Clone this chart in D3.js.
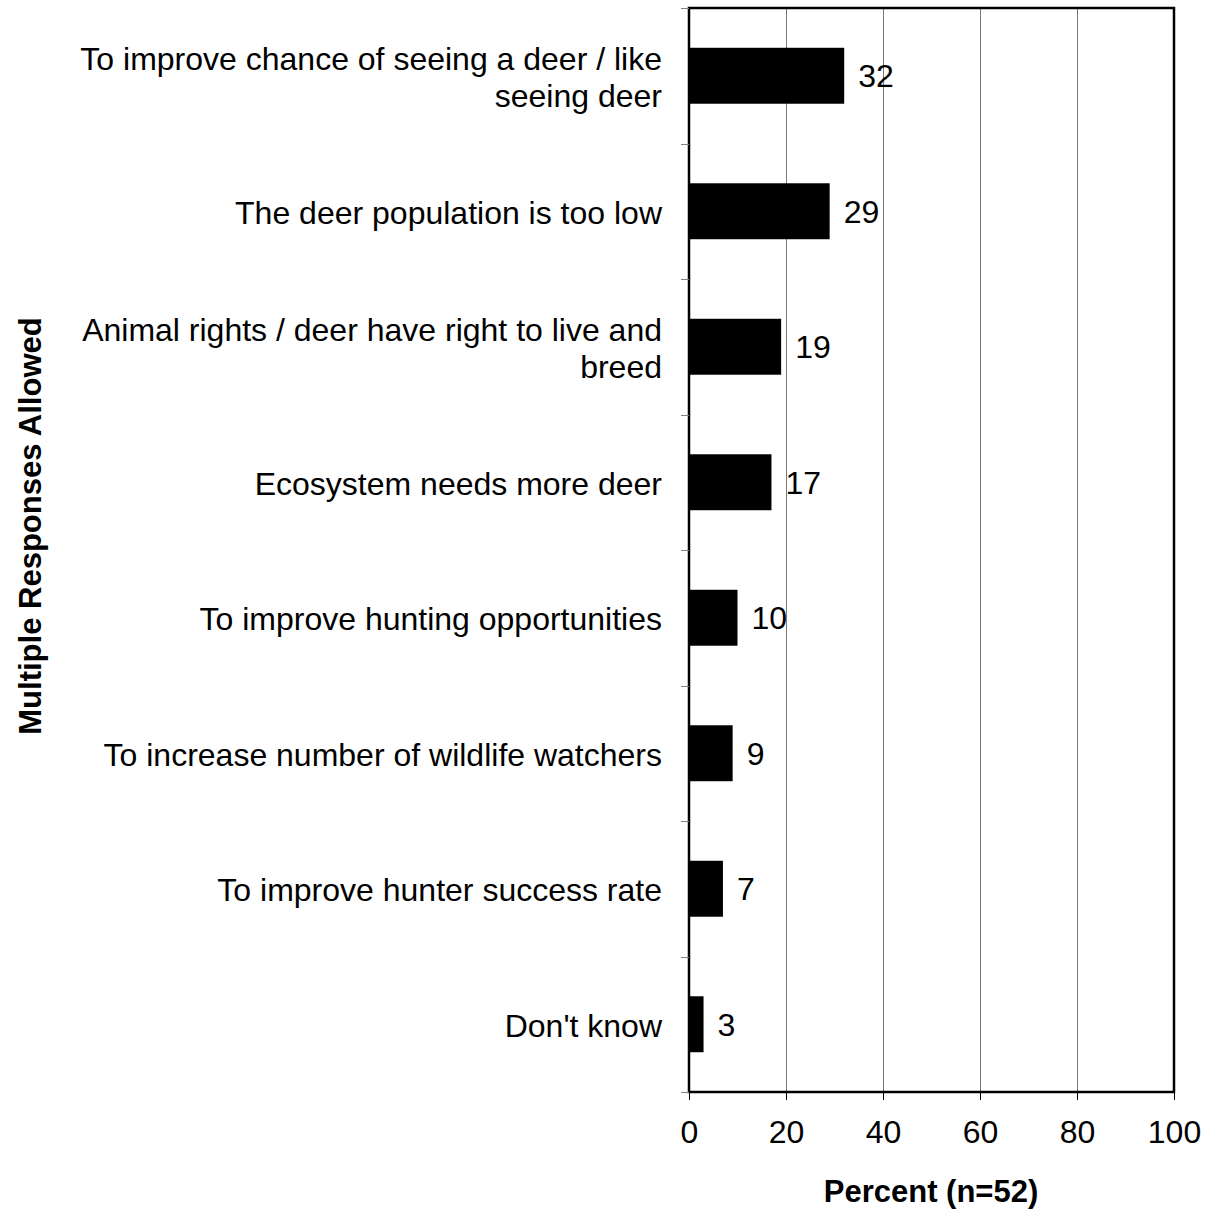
<!DOCTYPE html>
<html><head><meta charset="utf-8">
<script src="https://cdn.jsdelivr.net/npm/d3@7"></script>
<style>body{margin:0;background:#fff}svg{display:block}text{font-family:"Liberation Sans",Arial,sans-serif;fill:#000}</style>
</head><body>
<script>
const categories = [
  ["To improve chance of seeing a deer / like", "seeing deer"],
  ["The deer population is too low"],
  ["Animal rights / deer have right to live and", "breed"],
  ["Ecosystem needs more deer"],
  ["To improve hunting opportunities"],
  ["To increase number of wildlife watchers"],
  ["To improve hunter success rate"],
  ["Don't know"]
];
const values = [32, 29, 19, 17, 10, 9, 7, 3];
const xTicks = [0, 20, 40, 60, 80, 100];
const xTitle = "Percent (n=52)";
const yTitle = "Multiple Responses Allowed";

const W = 1209, H = 1209;
const m = {left: 689, right: 1174, top: 8, bottom: 1092};
const FS = 32;
const svg = d3.select("body").append("svg").attr("width", W).attr("height", H);
const x = d3.scaleLinear().domain([0, 100]).range([m.left, m.right]);
const idx = d3.range(values.length);
const y = d3.scaleBand().domain(idx).range([m.top, m.bottom]).paddingInner(0.587).paddingOuter(0.2935);
const yOuter = d3.scaleBand().domain(idx).range([m.top, m.bottom]);

// gridlines
svg.append("g").selectAll("line").data(xTicks.slice(1, -1)).join("line")
  .attr("x1", d => Math.round(x(d)) + 0.5).attr("x2", d => Math.round(x(d)) + 0.5).attr("y1", m.top).attr("y2", m.bottom)
  .attr("stroke", "#7a7a7a").attr("stroke-width", 1);

// bars
svg.append("g").selectAll("rect").data(values).join("rect")
  .attr("x", x(0)).attr("y", (d, i) => y(i)).attr("width", d => x(d) - x(0)).attr("height", y.bandwidth())
  .attr("fill", "#000");

// value labels
svg.append("g").selectAll("text").data(values).join("text")
  .attr("x", d => x(d) + 14).attr("y", (d, i) => y(i) + y.bandwidth() / 2)
  .attr("dy", "0.36em").attr("font-size", FS).text(d => d);

// frame
svg.append("rect").attr("x", m.left).attr("y", m.top).attr("width", m.right - m.left).attr("height", m.bottom - m.top)
  .attr("fill", "none").attr("stroke", "#000").attr("stroke-width", 2.5);

// y ticks (category boundaries)
svg.append("g").selectAll("line").data(d3.range(values.length + 1)).join("line")
  .attr("x1", m.left - 8).attr("x2", m.left)
  .attr("y1", d => Math.round(m.top + d * yOuter.step()) + 0.5).attr("y2", d => Math.round(m.top + d * yOuter.step()) + 0.5)
  .attr("stroke", "#808080").attr("stroke-width", 1);

// x axis
const xAxis = svg.append("g").attr("transform", `translate(0,${m.bottom})`)
  .call(d3.axisBottom(x).tickValues(xTicks).tickSize(8).tickPadding(20));
xAxis.select(".domain").remove();
xAxis.selectAll(".tick line").attr("stroke", "#000").attr("stroke-width", 1);
xAxis.selectAll(".tick text").attr("font-size", FS).attr("font-family", '"Liberation Sans",Arial,sans-serif').attr("fill", "#000");

// category labels
const lab = svg.append("g").selectAll("text").data(categories).join("text")
  .attr("text-anchor", "end").attr("font-size", FS)
  .attr("y", (d, i) => y(i) + y.bandwidth() / 2);
lab.each(function(d) {
  const t = d3.select(this);
  const lh = 37;
  const off = -(d.length - 1) * lh / 2;
  d.forEach((line, j) => {
    t.append("tspan").attr("x", 662).attr("dy", j === 0 ? (off + 12.5) : lh).text(line);
  });
});

// axis titles
svg.append("text").attr("x", 931).attr("y", 1202).attr("text-anchor", "middle")
  .attr("font-size", 31).attr("font-weight", "bold").text(xTitle);
svg.append("text").attr("transform", "translate(41,526) rotate(-90)").attr("text-anchor", "middle")
  .attr("font-size", 31).attr("font-weight", "bold").text(yTitle);
</script>
</body></html>
